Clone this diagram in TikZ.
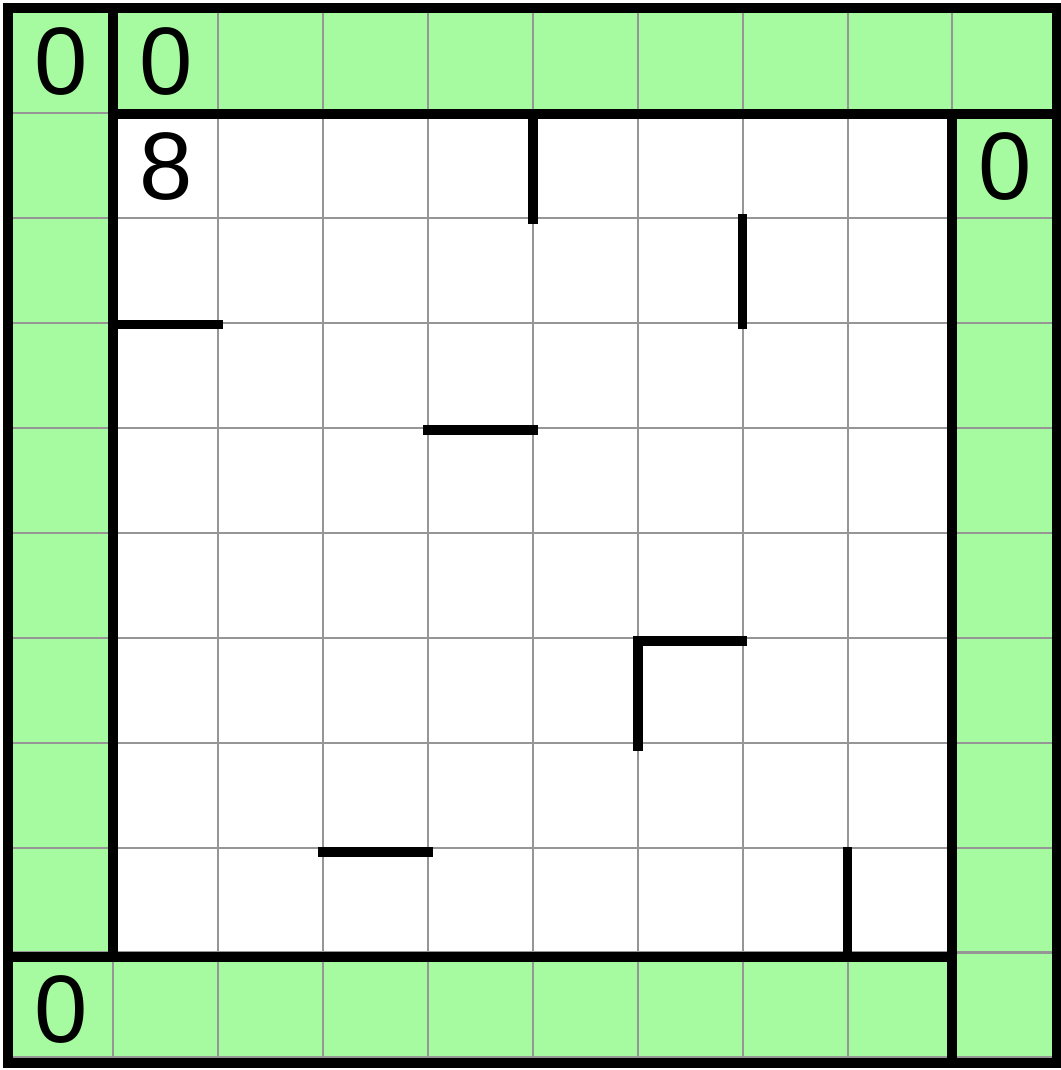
\documentclass[tikz,border=0pt]{standalone}
\usepackage{fontspec}
\setmainfont{Liberation Sans}
\usetikzlibrary{positioning,calc}
\definecolor{RimGreen}{RGB}{166,251,160}
\definecolor{GridGray}{RGB}{150,150,150}
\tikzset{
  grid/.style={draw=GridGray,line width=0.55pt},
  frame/.style={draw=black,line width=2.7pt,line cap=rect},
  wall/.style={draw=black,line width=2.6pt,line cap=rect},
  num/.style={inner sep=0pt,font=\fontsize{26}{26}\selectfont},
}

\begin{document}
\begin{tikzpicture}[x=1cm,y=1.005cm]
\useasboundingbox (-0.08,0.08) rectangle (10.03,-10.07);
\fill[RimGreen] (0,0) rectangle (10,-10);
\fill[white] (1,-1) rectangle (9,-9);
\draw[grid] (0,0) grid (10,-10);
\draw[frame] (0,0) rectangle (10,-10);
\draw[frame] (1,0) -- (1,-9);
\draw[frame] (1,-1) -- (10,-1);
\draw[frame] (9,-1) -- (9,-10);
\draw[frame] (0,-9) -- (9,-9);
\node[num] (c00) at (0.5,-0.5) {0};
\node[num] (c10) at (1.5,-0.5) {0};
\node[num] (c11) at (1.5,-1.5) {8};
\node[num] (c91) at (9.5,-1.5) {0};
\node[num] (c09) at (0.5,-9.5) {0};
\draw[wall] (5,-1) -- (5,-2);
\draw[wall] (7,-2) -- (7,-3);
\draw[wall] (1,-3) -- (2,-3);
\draw[wall] (4,-4) -- (5,-4);
\draw[wall] (7,-6) -- (6,-6) -- (6,-7);
\draw[wall] (3,-8) -- (4,-8);
\draw[wall] (8,-8) -- (8,-9);
\end{tikzpicture}
\end{document}
